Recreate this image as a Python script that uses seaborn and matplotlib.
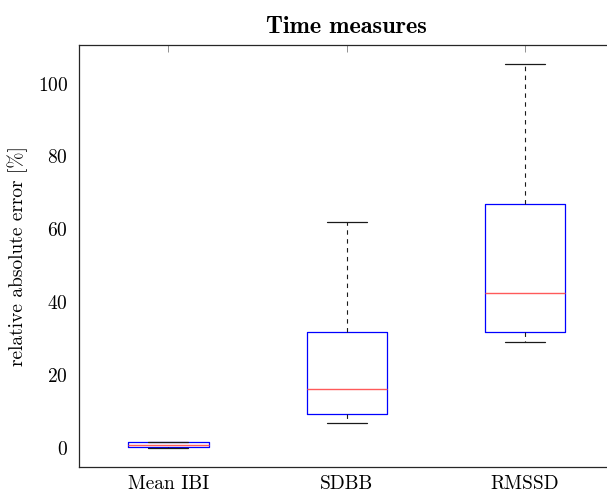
import numpy as np
import pandas as pd
import seaborn as sns
import matplotlib
matplotlib.use("Agg")
import matplotlib.pyplot as plt

# five-number summaries: min, q1, median, q3, max
measures = ["Mean IBI", "SDBB", "RMSSD"]
mean_ibi = [0.0, 0.25, 0.75, 1.55, 1.6]
sdbb = [6.8, 9.2, 16.2, 31.9, 62.1]
rmssd = [29.1, 31.7, 42.6, 66.9, 105.3]
y_ticks = [0, 20, 40, 60, 80, 100]

df = pd.DataFrame({
    "measure": np.repeat(measures, 5),
    "value": mean_ibi + sdbb + rmssd,
})

sns.set_style("white")
plt.rcParams["font.family"] = ["cmr10", "DejaVu Serif"]
plt.rcParams["axes.formatter.use_mathtext"] = True
plt.rcParams["font.size"] = 14
for k in ["text.color", "axes.labelcolor", "xtick.labelcolor", "ytick.labelcolor"]:
    plt.rcParams[k] = "black"

fig = plt.figure(figsize=(6.07, 4.93), dpi=100)
ax = fig.add_axes([0.1306, 0.0533, 0.881, 0.8548])

sns.boxplot(
    data=df, x="measure", y="value", order=measures, ax=ax,
    width=0.45, fill=False, color="blue", linewidth=0.9, showfliers=False,
    boxprops={"color": "blue", "linewidth": 0.9},
    medianprops={"color": "#ff5a5a", "linewidth": 1.0},
    whiskerprops={"color": "0.1", "linestyle": (0, (4, 4)), "linewidth": 0.8},
    capprops={"color": "0.1", "linewidth": 0.9},
)

ax.set_xlim(-0.5, 2.5)
ax.set_ylim(-5.2, 110.5)
ax.set_yticks(y_ticks)
ax.set_xlabel("")
ax.set_ylabel("relative absolute error [%]", fontsize=14, labelpad=7)
ax.set_title("Time measures", fontfamily="cmb10", fontsize=17.5, pad=9)

for s in ax.spines.values():
    s.set_visible(True)
    s.set_color("0.15")
    s.set_linewidth(0.9)

ax.tick_params(axis="both", direction="in", length=4.8, width=0.6, color="0.5",
               labelsize=14, top=True, right=True)
ax.tick_params(axis="x", pad=6)
ax.tick_params(axis="y", pad=8)

fig.savefig("out.png", dpi=100)
